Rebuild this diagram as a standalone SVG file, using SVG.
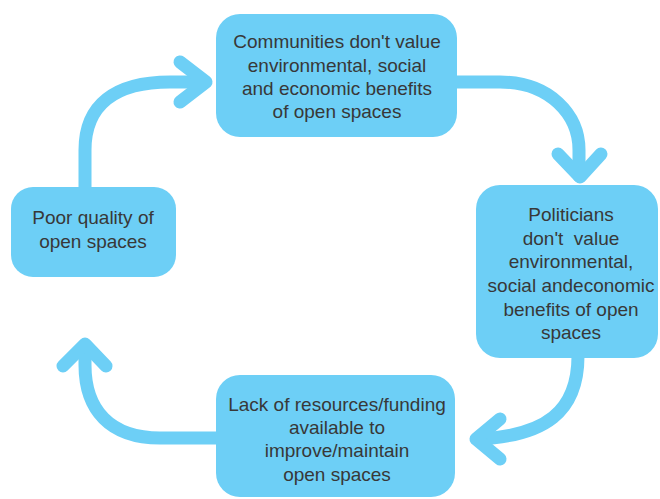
<svg xmlns="http://www.w3.org/2000/svg" width="660" height="499" viewBox="0 0 660 499">
<style>
.box{fill:#6dcff6;}
.lbl{font-family:"Liberation Sans",Arial,sans-serif;font-size:19px;fill:#383838;text-anchor:middle;}
.arr{fill:none;stroke:#6dcff6;stroke-width:13;stroke-linecap:round;stroke-linejoin:round;}
</style>
<rect width="660" height="499" fill="#ffffff"/>
<g id="connectors">
<path class="arr" d="M85 190 V150 C85 105 115 82 170 82 H204"/>
<path class="arr" d="M180 62 L206 82 L180 102"/>
<path class="arr" d="M455 82 H500 C550 82 579 115 579 150 V176"/>
<path class="arr" d="M558 154 L580 177 L601 154"/>
<path class="arr" d="M578 356 C578 412 545 436 478 439"/>
<path class="arr" d="M500 419 L476 439 L500 459"/>
<path class="arr" d="M218 438 H160 C110 438 85 410 85 365 V346"/>
<path class="arr" d="M63 366 L85 344 L106 366"/>
</g>
<g id="n-communities">
<rect class="box" x="216" y="14" width="241" height="123" rx="24"/>
<text class="lbl" x="337" y="48">Communities don't value</text>
<text class="lbl" x="337" y="72">environmental, social</text>
<text class="lbl" x="337" y="95">and economic benefits</text>
<text class="lbl" x="337" y="118">of open spaces</text>
</g>
<g id="n-politicians">
<rect class="box" x="476" y="185" width="182" height="173" rx="24"/>
<text class="lbl" x="571" y="221">Politicians</text>
<text class="lbl" x="571" y="245" xml:space="preserve">don't  value</text>
<text class="lbl" x="571" y="268">environmental,</text>
<text class="lbl" x="571" y="292">social andeconomic</text>
<text class="lbl" x="571" y="316">benefits of open</text>
<text class="lbl" x="571" y="339">spaces</text>
</g>
<g id="n-lack">
<rect class="box" x="216" y="375" width="239" height="122" rx="24"/>
<text class="lbl" x="337" y="411">Lack of resources/funding</text>
<text class="lbl" x="337" y="434">available to</text>
<text class="lbl" x="337" y="457">improve/maintain</text>
<text class="lbl" x="337" y="481">open spaces</text>
</g>
<g id="n-poor">
<rect class="box" x="11" y="187" width="165" height="90" rx="22"/>
<text class="lbl" x="93" y="224">Poor quality of</text>
<text class="lbl" x="93" y="248">open spaces</text>
</g>
</svg>
